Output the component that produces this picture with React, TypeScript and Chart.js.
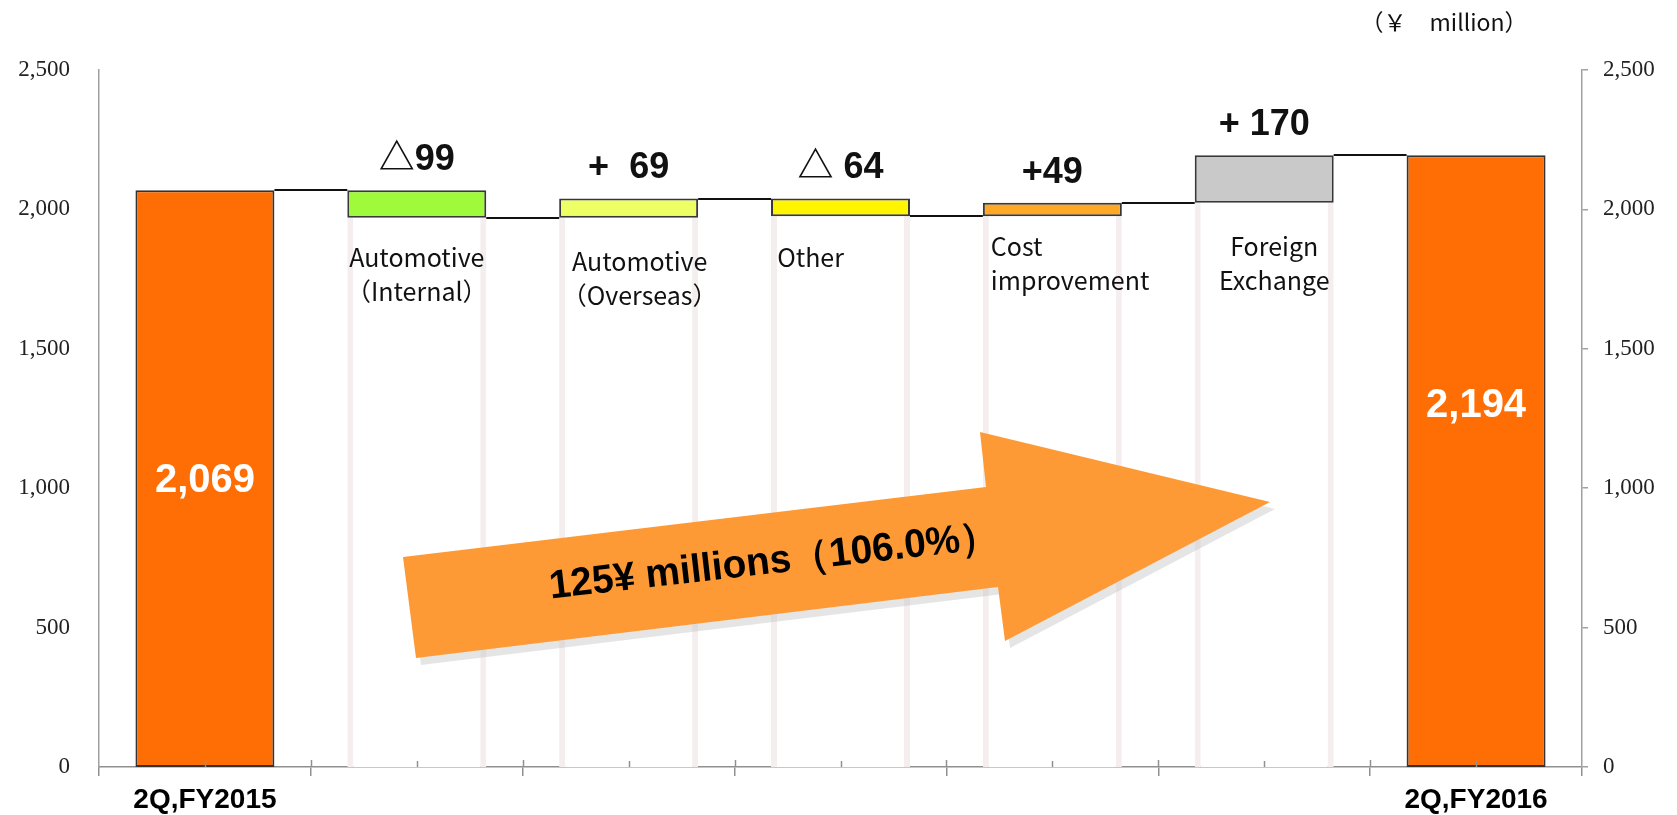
import React, { useEffect, useRef } from 'react';
import { Chart, registerables } from 'chart.js';

Chart.register(...registerables);

// ---------------- data ----------------
const categories = [
  '2Q,FY2015',
  'Automotive\n（Internal）',
  'Automotive\n（Overseas）',
  'Other',
  'Cost\nimprovement',
  'Foreign\nExchange',
  '2Q,FY2016',
];
const startTotal = 2069;
const changes = [-99, 69, -64, 49, 170];
const endTotal = 2194;
const changeLabels = ['△99', '+  69', '△ 64', '+49', '+ 170'];
const totalLabels = ['2,069', '2,194'];
const yTicks = [0, 500, 1000, 1500, 2000, 2500];
const unitLabel = '（￥　million）';
const arrowText = '125¥ millions（106.0%）';

// ---------------- styles ----------------
const barColors = ['#ff6e04', '#9ffa3b', '#eeff66', '#fff500', '#ffa826', '#c9c9c9', '#ff6e04'];
const barBorders = ['#333333', '#383838', '#383838', '#383838', '#383838', '#383838', '#333333'];
const catTextStyle: any[] = [
  null,
  { dx: 0, dy: 40, align: 'center' },
  { dx: 11, dy: 44, align: 'center' },
  { dx: -30, dy: 41, align: 'center' },
  { dx: 8, dy: 30, align: 'left' },
  { dx: 10, dy: 44, align: 'center' },
  null,
];
const totalLabelAt = [1025, 1294];
// arrow outline, relative to chart area (left, top)
const arrowPts = [
  [304, 487], [887, 417], [881, 362], [1171, 432], [906, 571], [899, 517], [317, 588],
];

// derived running levels
const levels: number[] = [startTotal];
changes.forEach((c) => levels.push(levels[levels.length - 1] + c));
const floating = [
  [0, startTotal],
  ...changes.map((c, i) => [Math.min(levels[i], levels[i + 1]), Math.max(levels[i], levels[i + 1])]),
  [0, endTotal],
];
const stripes = [null, ...changes.map((c, i) => [0, Math.min(levels[i], levels[i + 1])]), null];

const annotatePlugin = {
  id: 'annotate',
  afterDatasetsDraw(chart: any) {
    const ctx = chart.ctx as CanvasRenderingContext2D;
    const meta = chart.getDatasetMeta(1);
    const ys = chart.scales.y;
    const area = chart.chartArea;
    const els = meta.data;
    ctx.save();

    // connectors
    ctx.strokeStyle = '#111';
    ctx.lineWidth = 2;
    for (let i = 0; i < els.length - 1; i++) {
      const a = els[i];
      const b = els[i + 1];
      const py = Math.round(ys.getPixelForValue(levels[i]));
      ctx.beginPath();
      ctx.moveTo(a.x + a.width / 2, py);
      ctx.lineTo(b.x - b.width / 2, py);
      ctx.stroke();
    }

    // change labels
    ctx.fillStyle = '#111';
    ctx.font = 'bold 36px "Liberation Sans", "Noto Sans CJK JP", sans-serif';
    ctx.textAlign = 'center';
    ctx.textBaseline = 'middle';
    changeLabels.forEach((t, i) => {
      const el = els[i + 1];
      const top = Math.min(el.y, el.base);
      ctx.fillText(t, el.x, top - 30);
    });

    // category texts inside chart
    ctx.font = '25px "Noto Sans CJK JP", sans-serif';
    ctx.fillStyle = '#111';
    categories.forEach((c, i) => {
      const st = catTextStyle[i];
      if (!st) return;
      const el = els[i];
      const bottom = Math.max(el.y, el.base);
      const lines = c.split('\n');
      ctx.textAlign = st.align;
      const x0 = st.align === 'left' ? el.x - el.width / 2 + st.dx : el.x + st.dx;
      lines.forEach((ln, k) => ctx.fillText(ln, x0, bottom + st.dy + k * 34));
    });

    // totals in big bars
    ctx.fillStyle = '#ffffff';
    ctx.font = 'bold 40px "Liberation Sans", Arial, sans-serif';
    ctx.textAlign = 'center';
    const ends = [0, els.length - 1];
    ends.forEach((idx, k) => {
      const el = els[idx];
      ctx.fillText(totalLabels[k], el.x, ys.getPixelForValue(totalLabelAt[k]));
    });

    // small x ticks (centers up, boundaries crossing)
    ctx.strokeStyle = '#909090';
    ctx.lineWidth = 1.5;
    const xb = area.bottom;
    els.forEach((el: any, i: number) => {
      ctx.beginPath();
      ctx.moveTo(Math.round(el.x) + 0.5, xb);
      ctx.lineTo(Math.round(el.x) + 0.5, xb - 6);
      ctx.stroke();
      if (i > 0) {
        const bx = Math.round(chart.scales.x.getPixelForValue(i - 0.5)) + 0.5;
        ctx.beginPath();
        ctx.moveTo(bx, xb);
        ctx.lineTo(bx, xb - 7);
        ctx.stroke();
      }
    });

    // arrow with shadow
    const pts = arrowPts.map(([x, y]) => [area.left + x, area.top + y]);
    const poly = (dx: number, dy: number) => {
      ctx.beginPath();
      pts.forEach(([x, y], k) => (k ? ctx.lineTo(x + dx, y + dy) : ctx.moveTo(x + dx, y + dy)));
      ctx.closePath();
    };
    ctx.fillStyle = 'rgba(190,190,190,0.4)';
    poly(5, 7);
    ctx.fill();
    ctx.fillStyle = '#fe9a36';
    poly(0, 0);
    ctx.fill();

    // arrow text
    ctx.save();
    ctx.translate(area.left + 675, area.top + 492);
    ctx.rotate((-6.5 * Math.PI) / 180);
    ctx.font = 'bold 38px "Liberation Sans", Arial, sans-serif';
    const w = ctx.measureText(arrowText).width;
    const sx = 452 / w;
    ctx.scale(sx, 1.05);
    ctx.fillStyle = '#000';
    ctx.textAlign = 'center';
    ctx.textBaseline = 'middle';
    ctx.fillText(arrowText, 0, 0);
    ctx.restore();

    // unit label
    ctx.fillStyle = '#111';
    ctx.font = '23px "Noto Sans CJK JP", sans-serif';
    ctx.textAlign = 'center';
    ctx.textBaseline = 'middle';
    ctx.fillText(unitLabel, area.right - 138, area.top - 48);

    ctx.restore();
  },
};

export default function App() {
  const ref = useRef<HTMLCanvasElement | null>(null);
  useEffect(() => {
    if (!ref.current) return;
    const tickFont = { family: '"Liberation Serif", "DejaVu Serif", serif', size: 23 };
    const fmt = (v: any) => Number(v).toLocaleString('en-US');
    const setTicks = (s: any) => {
      s.ticks = yTicks.map((v) => ({ value: v }));
    };
    const chart = new Chart(ref.current, {
      type: 'bar',
      data: {
        labels: categories,
        datasets: [
          {
            label: 'stripes',
            data: stripes as any,
            backgroundColor: '#ffffff',
            borderColor: '#f5eeee',
            borderWidth: { left: 6, right: 6, top: 0, bottom: 0 } as any,
            borderSkipped: false,
            grouped: false,
            order: 2,
            barPercentage: 0.656,
            categoryPercentage: 1,
          } as any,
          {
            label: 'values',
            data: floating as any,
            backgroundColor: barColors,
            borderColor: barBorders,
            borderWidth: 2,
            borderSkipped: false,
            grouped: false,
            order: 1,
            barPercentage: 0.656,
            categoryPercentage: 1,
          } as any,
        ],
      },
      options: {
        responsive: false,
        animation: false,
        devicePixelRatio: 1,
        layout: { padding: { top: 70, left: 0, right: 0, bottom: 0 } },
        plugins: { legend: { display: false }, tooltip: { enabled: false } },
        scales: {
          x: {
            grid: {
              display: true,
              drawOnChartArea: false,
              drawTicks: true,
              tickLength: 9,
              color: '#909090',
              lineWidth: 1.5,
              offset: true,
            },
            border: { display: true, color: '#909090', width: 1.5 },
            ticks: {
              autoSkip: false,
              maxRotation: 0,
              minRotation: 0,
              padding: 7,
              color: '#000',
              font: { family: '"Liberation Sans", Arial, sans-serif', size: 28, weight: 'bold' },
              callback: (_v: any, i: number) =>
                i === 0 || i === categories.length - 1 ? categories[i] : '',
            },
            afterFit: (s: any) => {
              s.height = 48;
            },
          },
          y: {
            position: 'left',
            min: 0,
            max: 2500,
            grid: { display: false, drawTicks: false },
            border: { display: true, color: '#a0a0a0', width: 1.5 },
            ticks: { padding: 29, color: '#222', font: tickFont, callback: fmt },
            afterBuildTicks: setTicks,
            afterFit: (s: any) => {
              s.width = 99;
            },
          },
          y2: {
            position: 'right',
            min: 0,
            max: 2500,
            grid: { display: true, drawOnChartArea: false, drawTicks: true, tickLength: 6, color: '#a0a0a0', lineWidth: 1.5 },
            border: { display: true, color: '#a0a0a0', width: 1.5 },
            ticks: { padding: 15, color: '#222', font: tickFont, callback: fmt },
            afterBuildTicks: setTicks,
            afterFit: (s: any) => {
              s.width = 95;
            },
          },
        },
      } as any,
      plugins: [annotatePlugin],
    });
    return () => chart.destroy();
  }, []);

  return (
    <div style={{ position: 'fixed', left: 0, top: 0, width: 1677, height: 815, background: '#fff' }}>
      <canvas ref={ref} width={1677} height={815} style={{ display: 'block', width: 1677, height: 815 }} />
    </div>
  );
}
